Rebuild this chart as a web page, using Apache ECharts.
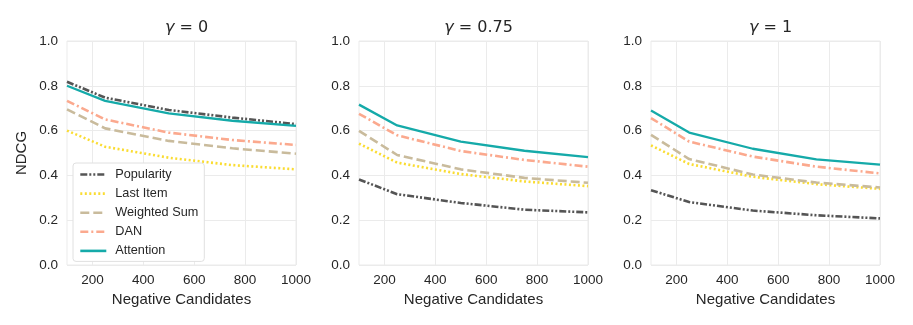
<!DOCTYPE html>
<html>
<head>
<meta charset="utf-8">
<script src="https://cdn.jsdelivr.net/npm/echarts@6/dist/echarts.min.js"></script>
<style>
  html, body { margin: 0; padding: 0; background: #fff; }
  #chart { width: 913px; height: 325px; }
</style>
</head>
<body>
<div id="chart"></div>
<script>
// number of negative candidates (x)
var candidates = [100, 250, 500, 750, 1000];
var xTicks = [200, 400, 600, 800, 1000];
var gammaLabels = ['0', '0.75', '1'];
var methods = ['Popularity', 'Last Item', 'Weighted Sum', 'DAN', 'Attention'];

// NDCG per panel (gamma = 0, 0.75, 1)
var popularity = [
    [0.818, 0.747, 0.692, 0.658, 0.629],
    [0.382, 0.316, 0.277, 0.247, 0.235],
    [0.334, 0.281, 0.243, 0.222, 0.208]
];
var lastItem = [
    [0.600, 0.528, 0.479, 0.446, 0.427],
    [0.542, 0.457, 0.406, 0.373, 0.352],
    [0.534, 0.451, 0.394, 0.361, 0.340]
];
var weightedSum = [
    [0.695, 0.610, 0.554, 0.521, 0.497],
    [0.599, 0.491, 0.427, 0.389, 0.367],
    [0.581, 0.473, 0.404, 0.368, 0.346]
];
var dan = [
    [0.733, 0.650, 0.591, 0.558, 0.536],
    [0.675, 0.579, 0.509, 0.469, 0.439],
    [0.656, 0.551, 0.484, 0.439, 0.409]
];
var attention = [
    [0.800, 0.733, 0.677, 0.644, 0.621],
    [0.716, 0.623, 0.551, 0.510, 0.482],
    [0.690, 0.591, 0.519, 0.472, 0.448]
];

var seriesData = [popularity, lastItem, weightedSum, dan, attention];
var colors = ['#555555', '#fadc32', '#c9bb9c', '#fba98e', '#15aaa9'];
var dashes = [[7, 2, 2, 2, 2, 2], [2, 2.5], [9, 4], [8, 3, 2, 3], 'solid'];

var font = 'Liberation Sans, Arial, sans-serif';
var gridLeft = [67, 359, 651];
var gridColor = '#ebebeb';
var textColor = '#262626';

var chart = echarts.init(document.getElementById('chart'));

var grids = [], xAxes = [], yAxes = [], titles = [], series = [];
for (var p = 0; p < 3; p++) {
    grids.push({
        left: gridLeft[p], top: 41, width: 229, height: 224,
        show: true, borderColor: gridColor, borderWidth: 1, backgroundColor: '#fff'
    });
    titles.push({
        text: '{g|γ} = ' + gammaLabels[p],
        left: gridLeft[p] + 114.5, top: 15, textAlign: 'center',
        textStyle: {
            fontFamily: 'DejaVu Sans', fontSize: 16, fontWeight: 'normal', color: textColor,
            rich: { g: { fontFamily: 'DejaVu Sans', fontStyle: 'italic', fontSize: 16, color: textColor } }
        }
    });
    xAxes.push({
        type: 'value', gridIndex: p, min: 100, max: 1000,
        name: 'Negative Candidates', nameLocation: 'middle', nameGap: 25,
        nameTextStyle: { fontFamily: font, fontSize: 15, color: textColor },
        axisLine: { show: false },
        axisTick: { show: false, customValues: xTicks },
        axisLabel: {
            customValues: xTicks, fontFamily: font, fontSize: 13.5, color: textColor, margin: 8,
            formatter: function (v) { return String(v); }
        },
        splitLine: { show: true, lineStyle: { color: gridColor, width: 1 } }
    });
    yAxes.push({
        type: 'value', gridIndex: p, min: 0, max: 1, interval: 0.2,
        name: p === 0 ? 'NDCG' : '', nameLocation: 'middle', nameGap: 38,
        nameTextStyle: { fontFamily: font, fontSize: 15, color: textColor },
        axisLine: { show: false },
        axisTick: { show: false },
        axisLabel: {
            fontFamily: font, fontSize: 13.5, color: textColor, margin: 9,
            formatter: function (v) { return v.toFixed(1); }
        },
        splitLine: { show: true, lineStyle: { color: gridColor, width: 1 } }
    });
    for (var s = 0; s < methods.length; s++) {
        var pts = [];
        for (var i = 0; i < candidates.length; i++) {
            pts.push([candidates[i], seriesData[s][p][i]]);
        }
        series.push({
            name: methods[s], type: 'line', xAxisIndex: p, yAxisIndex: p,
            data: pts, symbol: 'none', silent: true,
            z: s === 0 ? 6 : 2 + s,
            lineStyle: { color: colors[s], width: s === 4 ? 2.3 : 2.6, type: dashes[s] },
            itemStyle: { color: colors[s] }
        });
    }
}

chart.setOption({
    animation: false,
    backgroundColor: '#fff',
    title: titles,
    grid: grids,
    xAxis: xAxes,
    yAxis: yAxes,
    legend: {
        data: methods,
        orient: 'vertical',
        left: 73, top: 163,
        itemWidth: 26, itemHeight: 12, itemGap: 6.1,
        padding: [5, 6, 4, 6],
        backgroundColor: '#fff',
        borderColor: '#e0e0e0', borderWidth: 1, borderRadius: 3,
        itemStyle: { opacity: 0 },
        lineStyle: { width: 2.6 },
        textStyle: { fontFamily: font, fontSize: 12.7, color: textColor, padding: [0, 0, 0, 4] }
    },
    series: series
});
</script>
</body>
</html>
